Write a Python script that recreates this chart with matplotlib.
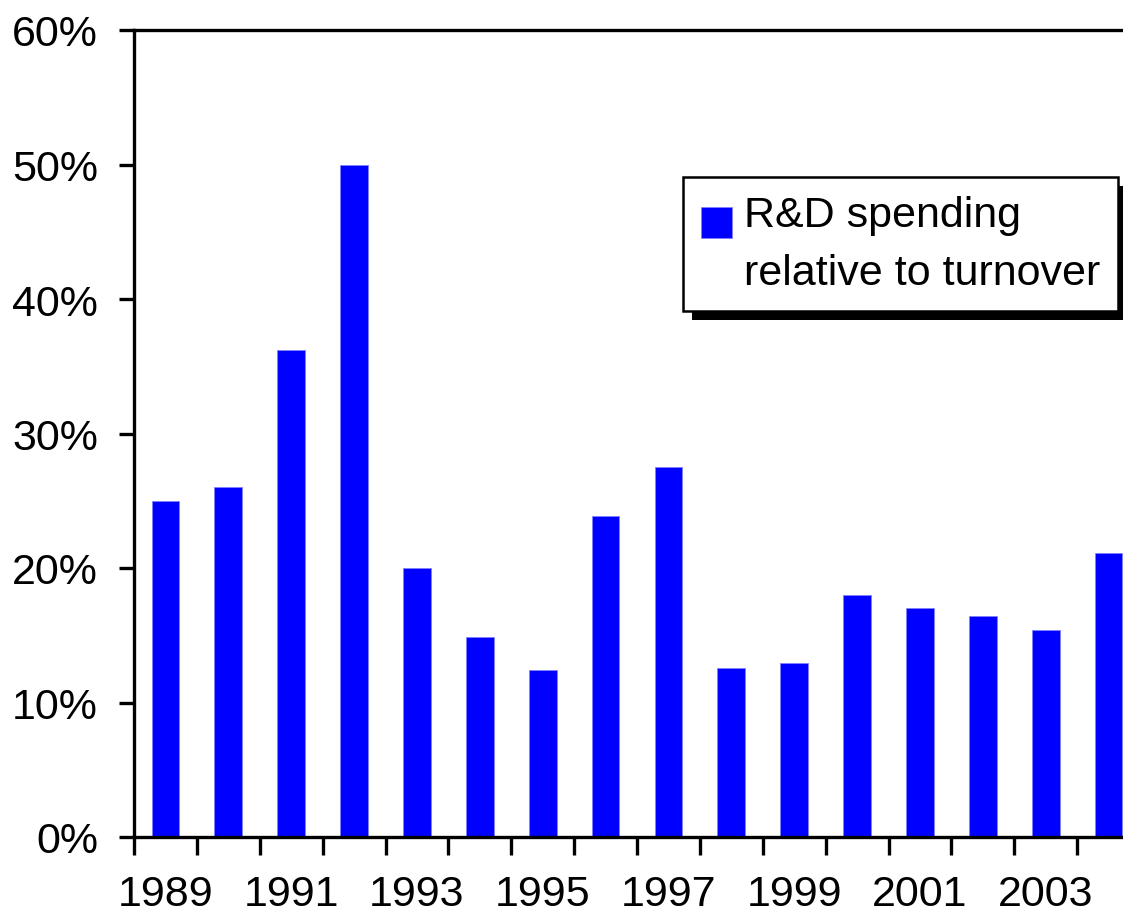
import matplotlib
matplotlib.use("Agg")
import matplotlib.pyplot as plt
from matplotlib.patches import Patch, Rectangle
from matplotlib.legend_handler import HandlerPatch
import numpy as np

plt.rcParams['font.family'] = ['Liberation Sans', 'DejaVu Sans']

years = [1989, 1990, 1991, 1992, 1993, 1994, 1995, 1996,
         1997, 1998, 1999, 2000, 2001, 2002, 2003, 2004]
rd_share = [25.0, 26.0, 36.2, 50.0, 20.0, 14.9, 12.4, 23.9,
            27.5, 12.6, 12.9, 18.0, 17.0, 16.4, 15.4, 21.1]
yticks = [0, 10, 20, 30, 40, 50, 60]
series_label = "R&D spending"
series_label2 = "relative to turnover"

W, H = 1123, 920
fig = plt.figure(figsize=(W / 100, H / 100), dpi=100)
left_px, right_px, top_px, bottom_px = 134, 1140, 31, 838
ax = fig.add_axes([left_px / W, 1 - bottom_px / H,
                   (right_px - left_px) / W, (bottom_px - top_px) / H])

x = np.arange(len(years))
ax.bar(x, rd_share, width=0.44, color='#0000ff', edgecolor='#8080ff',
       linewidth=0.6, zorder=2)

ax.set_xlim(-0.5, len(years) - 0.5)
ax.set_ylim(0, 60)

fs = 31
lw = 2.4
# y axis
ax.set_yticks(yticks)
ax.set_yticklabels([f"{v}%" for v in yticks], fontsize=fs)
ax.tick_params(axis='y', which='major', direction='out', length=11,
               width=lw, pad=15, labelsize=fs)
# x axis: major ticks at category boundaries, minor (inward) at centres
ax.set_xticks(np.arange(-0.5, len(years) + 0.5, 1.0))
ax.set_xticklabels([])
ax.set_xticks(x, labels=[str(y) if i % 2 == 0 else '' for i, y in enumerate(years)],
              minor=True)
ax.tick_params(axis='x', which='major', direction='out', length=13, width=lw)
ax.tick_params(axis='x', which='minor', direction='in', length=8, width=lw,
               pad=27, labelsize=fs)

for s in ax.spines.values():
    s.set_linewidth(lw)


def low_square(legend, orig_handle, xdescent, ydescent, width, height, fontsize):
    return Rectangle((-xdescent, -ydescent - 0.27 * fontsize), width, height)


handles = [Patch(facecolor='#0000ff', edgecolor='#8080ff', linewidth=0.5),
           Patch(visible=False)]
leg = ax.legend(handles, [series_label, series_label2], loc='upper left',
                bbox_to_anchor=(683 / W, 1 - 178 / H),
                bbox_transform=fig.transFigure, borderaxespad=0,
                fontsize=fs, frameon=True, fancybox=False,
                edgecolor='black', framealpha=1, handlelength=0.72,
                handleheight=0.72, handletextpad=0.28, labelspacing=0.42,
                borderpad=0.42,
                handler_map={handles[0]: HandlerPatch(patch_func=low_square)})
leg.get_frame().set_linewidth(1.8)
leg.set_zorder(10)

fig.canvas.draw()
bb = leg.get_window_extent()
shadow = Rectangle((bb.x0 + 9, bb.y0 - 9), bb.width, bb.height,
                   facecolor='black', edgecolor='none', transform=None,
                   zorder=9, clip_on=False)
ax.add_artist(shadow)

fig.savefig("out.png", dpi=100)
